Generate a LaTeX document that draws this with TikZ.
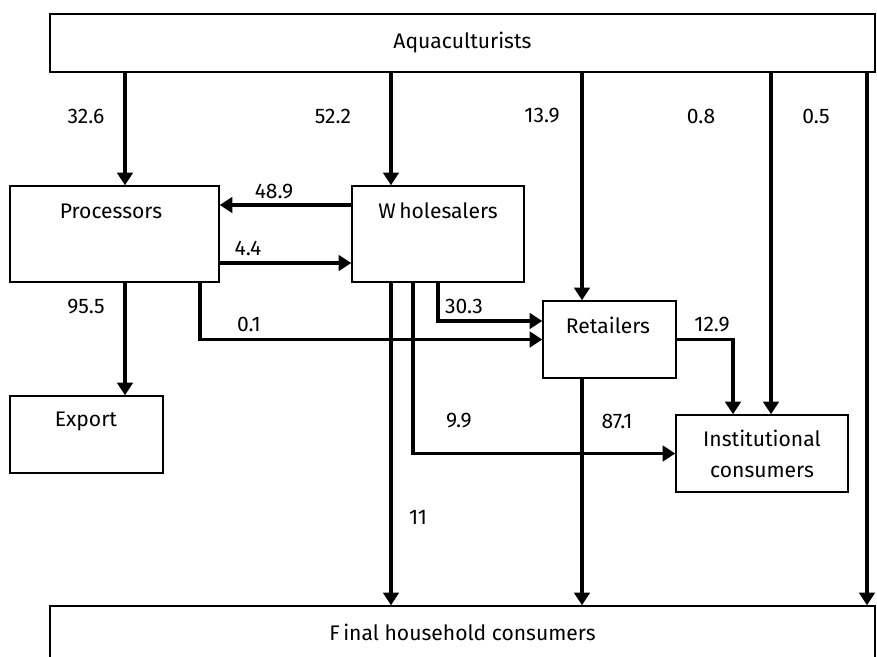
\documentclass[tikz,border=0pt]{standalone}
\usepackage{fontspec}
\setmainfont{Fira Sans}
\usetikzlibrary{arrows.meta,positioning}
\newlength\px
\setlength\px{0.025cm}
\begin{document}
\begin{tikzpicture}[x=\px,y=-\px,
    every node/.style={font=\fontsize{15}{22}\selectfont},
    box/.style={draw=black,line width=1pt,inner sep=0pt},
    flow/.style={draw=black,line width=2.5pt,-{Triangle[length=9pt,width=11pt]}}]
  \useasboundingbox (0,0) rectangle (877,657);
  \clip (0,0) rectangle (877,657);
  % boxes
  \node[box,minimum width=825\px,minimum height=58\px] (aqua) at (462.5,43) {Aquaculturists};
  \node[box,minimum width=209\px,minimum height=96\px] (proc) at (114.5,234) {};
  \node[box,minimum width=172\px,minimum height=96\px] (whole) at (438,234) {};
  \node[box,minimum width=153\px,minimum height=77\px] (export) at (86.5,434.5) {};
  \node[box,minimum width=133\px,minimum height=77\px] (retail) at (609.5,339.5) {};
  \node[box,minimum width=172\px,minimum height=77\px,align=center] (inst) at (762,453.5) {Institutional\\consumers};
  \node[box,minimum width=825\px,minimum height=52\px] (final) at (462.5,632) {F\,inal household consumers};
  \node (proctext) at (111,211) {Processors};
  \node (wholetext) at (438,211) {W\,holesalers};
  \node (exporttext) at (86,421) {Export};
  \node (retailtext) at (608,325) {Retailers};
  % columns and rows
  \coordinate (c125) at (125,0);
  \coordinate (c200) at (200,0);
  \coordinate (c391) at (391,0);
  \coordinate (c413) at (413,0);
  \coordinate (c438) at (438,0);
  \coordinate (c582) at (582,0);
  \coordinate (c733) at (733,0);
  \coordinate (c771) at (771,0);
  \coordinate (c867) at (867,0);
  \coordinate (r205) at (0,205);
  \coordinate (r263) at (0,263);
  \coordinate (r321) at (0,321);
  % flows
  \draw[flow] (aqua.south -| c125) -- (proc.north -| c125);
  \draw[flow] (aqua.south -| c391) -- (whole.north -| c391);
  \draw[flow] (aqua.south -| c582) -- (retail.north -| c582);
  \draw[flow] (aqua.south -| c771) -- (inst.north -| c771);
  \draw[flow] (aqua.south -| c867) -- (final.north -| c867);
  \draw[flow] (whole.west |- r205) -- (proc.east |- r205);
  \draw[flow] (proc.east |- r263) -- (whole.west |- r263);
  \draw[flow] (proc.south -| c125) -- (export.north -| c125);
  \draw[flow] (proc.south -| c200) |- (retail.west);
  \draw[flow] (whole.south -| c438) |- (retail.west |- r321);
  \draw[flow] (whole.south -| c413) |- (inst.west);
  \draw[flow] (whole.south -| c391) -- (final.north -| c391);
  \draw[flow] (retail.east) -| (inst.north -| c733);
  \draw[flow] (retail.south -| c582) -- (final.north -| c582);
  % shares
  \node (n326) at (86,116) {32.6};
  \node (n522) at (333,116) {52.2};
  \node (n139) at (542,116) {13.9};
  \node (n08) at (701,116) {0.8};
  \node (n05) at (816,116) {0.5};
  \node (n489) at (274,192) {48.9};
  \node (n44) at (248,248) {4.4};
  \node (n955) at (86,307) {95.5};
  \node (n01) at (249,324) {0.1};
  \node (n303) at (464,306) {30.3};
  \node (n129) at (712,325) {12.9};
  \node (n99) at (459,421) {9.9};
  \node (n871) at (617,421) {87.1};
  \node (n11) at (418,517) {11};
\end{tikzpicture}
\end{document}
